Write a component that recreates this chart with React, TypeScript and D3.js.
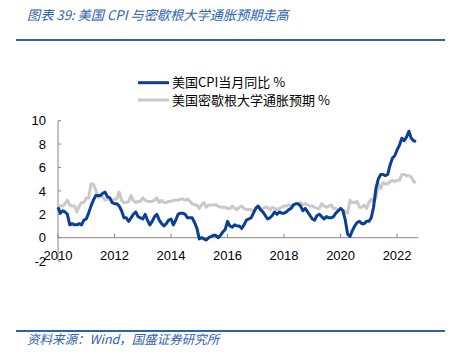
import React from "react";
import * as d3 from "d3";

const startYear = 2010;
const cpi: number[] = [
  2.6, 2.1, 2.3, 2.2, 2.0, 1.1, 1.2, 1.1, 1.1, 1.2, 1.1, 1.5,
  1.6, 2.1, 2.7, 3.2, 3.6, 3.6, 3.6, 3.8, 3.9, 3.5, 3.4, 3.0,
  2.9, 2.9, 2.7, 2.3, 1.7, 1.7, 1.4, 1.7, 2.0, 2.2, 1.8, 1.7,
  1.6, 2.0, 1.5, 1.1, 1.4, 1.8, 2.0, 1.5, 1.2, 1.0, 1.2, 1.5,
  1.6, 1.1, 1.5, 2.0, 2.1, 2.1, 2.0, 1.7, 1.7, 1.7, 1.3, 0.8,
  -0.1, 0.0, -0.1, -0.2, 0.0, 0.1, 0.2, 0.2, 0.0, 0.2, 0.5, 0.7,
  1.4, 1.0, 0.9, 1.1, 1.0, 1.0, 0.8, 1.1, 1.5, 1.6, 1.7, 2.1,
  2.5, 2.7, 2.4, 2.2, 1.9, 1.6, 1.7, 1.9, 2.2, 2.0, 2.2, 2.1,
  2.1, 2.2, 2.4, 2.5, 2.8, 2.9, 2.9, 2.7, 2.3, 2.5, 2.2, 1.9,
  1.6, 1.5, 1.9, 2.0, 1.8, 1.6, 1.8, 1.7, 1.7, 1.8, 2.1, 2.3,
  2.5, 2.3, 1.5, 0.3, 0.1, 0.6, 1.0, 1.3, 1.4, 1.2, 1.2, 1.4,
  1.4, 1.7, 2.6, 4.2, 5.0, 5.4, 5.4, 5.3, 5.4, 6.2, 6.8, 7.0,
  7.5, 7.9, 8.5, 8.3, 8.6, 9.1, 8.5, 8.3, 8.2,
];
const michigan: number[] = [
  2.7, 2.7, 2.7, 2.9, 3.2, 2.8, 2.7, 2.7, 2.2, 2.7, 3.0, 3.0,
  3.4, 3.4, 4.6, 4.6, 4.1, 3.4, 3.5, 3.5, 3.2, 3.3, 3.3, 3.1,
  3.3, 3.3, 3.9, 3.2, 3.0, 3.0, 3.1, 3.6, 3.2, 3.0, 3.1, 3.1,
  3.4, 3.2, 3.1, 3.1, 3.1, 3.2, 3.4, 3.0, 3.2, 3.0, 3.0, 3.1,
  3.1, 3.2, 3.2, 3.2, 3.3, 3.3, 3.2, 3.3, 3.1, 2.9, 2.8, 2.8,
  2.5, 2.8, 3.0, 2.6, 2.8, 2.8, 2.8, 2.8, 2.7, 2.6, 2.6, 2.6,
  2.5, 2.5, 2.7, 2.5, 2.4, 2.6, 2.7, 2.5, 2.4, 2.4, 2.4, 2.2,
  2.6, 2.7, 2.4, 2.5, 2.6, 2.6, 2.4, 2.6, 2.5, 2.4, 2.5, 2.6,
  2.7, 2.7, 2.8, 2.7, 2.8, 2.9, 2.9, 3.0, 2.8, 2.9, 2.8, 2.7,
  2.7, 2.6, 2.5, 2.5, 2.9, 2.7, 2.6, 2.7, 2.8, 2.5, 2.5, 2.3,
  2.5, 2.4, 2.2, 2.1, 3.2, 3.0, 3.0, 3.1, 2.6, 2.6, 2.8, 2.5,
  3.0, 3.3, 3.1, 3.4, 4.6, 4.2, 4.7, 4.6, 4.6, 4.8, 4.9, 4.8,
  4.9, 4.9, 5.4, 5.4, 5.3, 5.3, 5.2, 4.8, 4.7,
];
const yTicks: number[] = [-2, 0, 2, 4, 6, 8, 10];
const xTicks: number[] = [2010, 2012, 2014, 2016, 2018, 2020, 2022];
const seriesNames: string[] = ["美国CPI当月同比 %", "美国密歇根大学通胀预期 %"];
const title = "图表 39:  美国 CPI 与密歇根大学通胀预期走高";
const source = "资料来源：Wind，国盛证券研究所";

const BLUE = "#0B3F95";
const GRAY = "#C9C9C9";
const ACCENT = "#2E62B0";

export default function App() {
  const W = 450, H = 359;
  const x = d3.scaleLinear().domain([0, 153]).range([58, 418.3]);
  const y = d3.scaleLinear().domain([-2, 10]).range([261.1, 120.7]);
  const line = d3
    .line<number>()
    .x((_, i) => x(i))
    .y((d) => y(d))
    .curve(d3.curveLinear);
  const cjk = "'Noto Sans CJK SC', sans-serif";
  const num = "'Liberation Sans', Arial, sans-serif";
  return (
    <svg width={W} height={H} style={{ position: "absolute", left: 0, top: 0, background: "#fff" }}>
      <text x={27} y={20} fontFamily={cjk} fontStyle="italic" fontSize={13.2} fill={ACCENT}>
        {title}
      </text>
      <line x1={16} x2={445} y1={40} y2={40} stroke={ACCENT} strokeWidth={2} />

      {/* legend */}
      <line x1={138} x2={169} y1={82.7} y2={82.7} stroke={BLUE} strokeWidth={3} />
      <text x={172} y={87.3} fontFamily={cjk} fontSize={13} fill="#000">{seriesNames[0]}</text>
      <line x1={138} x2={169} y1={100} y2={100} stroke={GRAY} strokeWidth={3} />
      <text x={172} y={104.6} fontFamily={cjk} fontSize={13} fill="#000">{seriesNames[1]}</text>

      {/* axes */}
      <line x1={58} x2={58} y1={y(10)} y2={y(-2)} stroke="#888" strokeWidth={1} />
      {yTicks.map((t) => (
        <g key={t}>
          <line x1={58} x2={61} y1={y(t)} y2={y(t)} stroke="#888" />
          <text x={46} y={y(t) + 4.6} textAnchor="end" fontFamily={num} fontSize={13} fill="#000">
            {t}
          </text>
        </g>
      ))}
      <line x1={58} x2={418.3} y1={y(0)} y2={y(0)} stroke="#888" strokeWidth={1} />
      {xTicks.map((t) => (
        <g key={t}>
          <line x1={x((t - startYear) * 12)} x2={x((t - startYear) * 12)} y1={y(0)} y2={y(0) - 4} stroke="#888" />
          <text x={x((t - startYear) * 12)} y={260} textAnchor="middle" fontFamily={num} fontSize={13} fill="#000">
            {t}
          </text>
        </g>
      ))}

      <path d={line(michigan) || ""} fill="none" stroke={GRAY} strokeWidth={3} strokeLinejoin="round" />
      <path d={line(cpi) || ""} fill="none" stroke={BLUE} strokeWidth={3} strokeLinejoin="round" />

      <line x1={16} x2={445} y1={331} y2={331} stroke={ACCENT} strokeWidth={2} />
      <text x={27} y={344} fontFamily={cjk} fontStyle="italic" fontSize={12.5} fill={ACCENT}>
        {source}
      </text>
    </svg>
  );
}
